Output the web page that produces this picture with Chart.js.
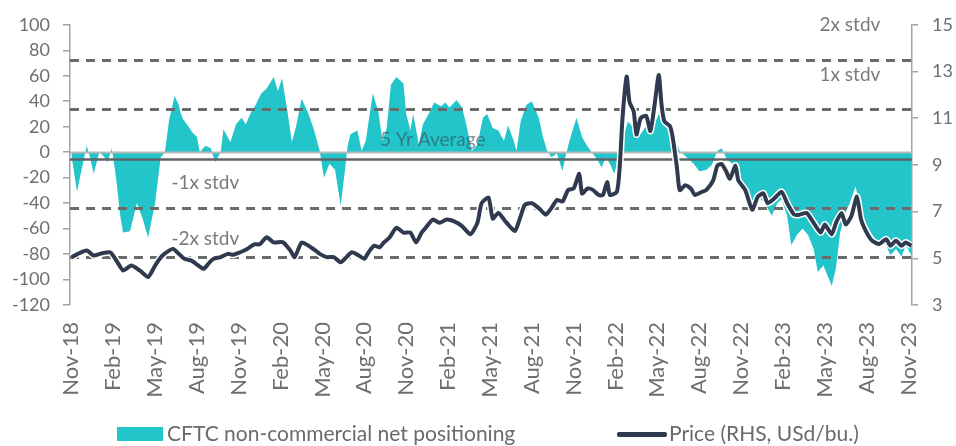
<!DOCTYPE html>
<html>
<head>
<meta charset="utf-8">
<script src="https://cdn.jsdelivr.net/npm/chart.js@4.4.0/dist/chart.umd.min.js"></script>
<style>
  body { margin: 0; background: #fff; font-family: Lato, "Open Sans", sans-serif; }
  #wrap { position: relative; width: 956px; height: 446px; }
  #chart { position: absolute; left: 0; top: 0; }
  .leg { position: absolute; top: 420px; font-size: 21px; line-height: 26px; color: #6a6a6a; white-space: nowrap; }
  .leg i { display: inline-block; vertical-align: middle; margin-right: 4px; }
  #legPos { left: 117px; }
  #legPos i { width: 46px; height: 14px; background: #22c5ca; margin-top: -3px; }
  #legPrice { left: 617px; }
  #legPrice i { width: 50px; height: 5px; background: #2f3a4f; border-radius: 2px; margin-right: 2px; margin-top: -2px; }
</style>
</head>
<body>
<div id="wrap">
  <canvas id="chart" width="956" height="446"></canvas>
  <div class="leg" id="legPos"><i></i>CFTC non-commercial net positioning</div>
  <div class="leg" id="legPrice"><i></i>Price (RHS, USd/bu.)</div>
</div>
<script>
// x tick labels, one every 3 months starting Nov-18
var tickLabels = ['Nov-18', 'Feb-19', 'May-19', 'Aug-19', 'Nov-19', 'Feb-20', 'May-20', 'Aug-20', 'Nov-20',
    'Feb-21', 'May-21', 'Aug-21', 'Nov-21', 'Feb-22', 'May-22', 'Aug-22', 'Nov-22', 'Feb-23', 'May-23', 'Aug-23', 'Nov-23'];

// CFTC net positioning (LHS) - months since Nov-18 / value
var posMonths = [0.0, 0.4, 0.8, 1.1, 1.35, 1.6, 2.0, 2.3, 2.6, 2.9, 3.2, 3.5, 3.7, 4.2, 4.7, 5.1, 5.5, 6.0, 6.4, 6.7,
    7.0, 7.4, 7.7, 7.85, 8.0, 8.4, 8.7, 9.0, 9.2, 9.6, 10.0, 10.3, 10.7, 10.9, 11.2, 11.4, 11.8, 12.2, 12.5, 12.9,
    13.2, 13.6, 14.0, 14.5, 14.8, 15.1, 15.5, 15.8, 16.1, 16.5, 17.0, 17.4, 17.8, 18.1, 18.5, 18.9, 19.3, 19.6, 19.8, 20.0,
    20.5, 20.8, 21.1, 21.6, 22.0, 22.3, 22.6, 22.9, 23.3, 23.8, 24.0, 24.3, 24.5, 24.9, 25.2, 25.6, 26.0, 26.5, 26.8, 27.1,
    27.6, 28.0, 28.3, 28.7, 29.1, 29.5, 29.8, 30.2, 30.6, 31.0, 31.3, 31.7, 31.9, 32.2, 32.6, 33.0, 33.5, 33.8, 34.1, 34.4,
    34.8, 35.2, 35.4, 35.7, 36.2, 36.6, 36.9, 37.3, 37.7, 38.0, 38.3, 38.6, 38.9, 39.2, 39.6, 39.9, 40.3, 40.8, 41.3, 41.7,
    42.1, 42.4, 42.8, 43.2, 43.6, 44.1, 44.6, 45.0, 45.5, 45.9, 46.3, 46.6, 47.0, 47.4, 47.8, 48.3, 48.8, 49.2, 49.7, 50.2,
    50.6, 50.9, 51.3, 51.6, 52.0, 52.4, 52.8, 53.2, 53.5, 53.9, 54.2, 54.5, 54.8, 55.1, 55.5, 55.8, 56.2, 56.5, 56.9, 57.3,
    57.6, 58.0, 58.4, 58.7, 59.1, 59.5, 59.8, 60.2];
var posValues = [-2, -31, -10, 5, -5, -17, 0, -3, -8, 3, -20, -50, -63, -62, -40, -52, -67, -40, -4, 0,
    25, 44, 37, 30, 26, 20, 15, 12, 0, 5, 3, -8, 0, 18, 12, 8, 22, 27, 22, 32,
    37, 46, 50, 59, 48, 58, 31, 8, 20, 42, 30, 17, 1, -20, -9, -14, -42, -15, 5, 14,
    17, 1, 9, 46, 32, 9, 19, 53, 59, 54, 30, 17, 30, 6, 22, 30, 39, 36, 39, 35,
    41, 35, 22, 1, 6, 27, 30, 19, 17, 9, 21, 9, 1, 24, 37, 40, 27, 12, 1, -4,
    -1, -15, -4, 9, 27, 12, 6, 0, -6, -12, -4, -9, -17, -6, 14, 24, 19, 14, 22, 19,
    30, 27, 19, 12, 1, -4, -9, -15, -14, -10, 1, 3, -6, -9, -22, -30, -42, -35, -40, -50,
    -40, -37, -50, -73, -65, -60, -65, -76, -94, -89, -97, -105, -91, -63, -47, -40, -27, -40, -55, -63,
    -68, -71, -73, -81, -76, -82, -73, -81];

// Price (RHS, USd/bu.)
var priceMonths = [0.0, 0.5, 1.1, 1.6, 2.1, 2.8, 3.3, 3.7, 4.3, 4.9, 5.5, 6.0, 6.5, 7.0, 7.3, 7.7, 8.1, 8.6, 9.1, 9.5,
    9.9, 10.2, 10.7, 11.2, 11.6, 12.1, 12.6, 13.1, 13.5, 14.0, 14.5, 15.0, 15.2, 15.7, 16.0, 16.5, 17.0, 17.5, 17.8, 18.3,
    18.8, 19.3, 19.6, 20.1, 20.6, 21.0, 21.3, 21.7, 22.1, 22.4, 22.8, 23.3, 23.8, 24.3, 24.7, 25.1, 25.4, 25.9, 26.4, 26.9,
    27.4, 28.0, 28.6, 29.1, 29.4, 29.9, 30.2, 30.6, 31.1, 31.4, 31.8, 32.2, 32.5, 33.0, 33.5, 34.0, 34.4, 34.8, 35.2, 35.6,
    36.0, 36.4, 36.6, 37.0, 37.4, 37.8, 38.1, 38.4, 38.6, 39.1, 39.3, 39.5, 39.8, 40.0, 40.3, 40.5, 40.8, 41.2, 41.5, 41.8,
    42.1, 42.3, 42.5, 42.9, 43.1, 43.4, 43.6, 44.0, 44.4, 44.7, 45.2, 45.5, 46.0, 46.3, 46.6, 46.9, 47.2, 47.6, 47.8, 48.3,
    48.8, 49.2, 49.6, 49.9, 50.4, 50.9, 51.3, 51.8, 52.2, 52.7, 53.2, 53.7, 54.0, 54.5, 54.8, 55.2, 55.5, 55.9, 56.3, 56.6,
    57.0, 57.4, 57.9, 58.4, 58.7, 59.1, 59.5, 59.8, 60.2];
var priceValues = [5.04, 5.2, 5.33, 5.12, 5.2, 5.25, 4.83, 4.48, 4.69, 4.48, 4.2, 4.69, 5.1, 5.33, 5.4, 5.19, 4.98, 4.9, 4.69, 4.55,
    4.83, 4.98, 5.05, 5.19, 5.15, 5.26, 5.4, 5.6, 5.6, 5.9, 5.68, 5.7, 5.68, 5.33, 5.05, 5.68, 5.54, 5.33, 5.19, 5.05,
    5.05, 4.83, 4.98, 5.26, 5.12, 4.98, 5.26, 5.54, 5.47, 5.68, 5.89, 6.31, 6.1, 6.1, 5.68, 6.1, 6.31, 6.66, 6.52, 6.66,
    6.59, 6.38, 6.03, 6.52, 7.36, 7.6, 6.7, 6.94, 6.59, 6.38, 6.17, 6.8, 7.29, 7.36, 7.15, 6.87, 7.15, 7.5, 7.43, 7.92,
    7.99, 8.62, 7.78, 7.99, 7.92, 7.71, 7.71, 8.27, 7.71, 7.85, 8.9, 11.0, 12.78, 11.7, 11.3, 10.3, 11.0, 11.1, 10.45, 11.57,
    12.85, 11.57, 10.87, 10.66, 10.17, 8.9, 7.92, 8.13, 7.99, 7.71, 7.85, 7.92, 8.34, 8.97, 9.04, 8.76, 8.41, 8.97, 8.34, 7.92,
    7.08, 7.64, 7.78, 7.36, 7.57, 7.85, 7.36, 6.87, 6.87, 6.94, 6.52, 6.1, 6.45, 6.03, 6.52, 6.94, 6.45, 6.8, 7.64, 6.66,
    6.1, 5.75, 5.61, 5.82, 5.54, 5.75, 5.54, 5.68, 5.54];

// 5 yr average and standard deviation of positioning
var avgLevel = -5;
var sdLevel = 38.6;
var sdMultiples = [2, 1, -1, -2];

function toPoints(xs, ys) {
    return xs.map(function (x, i) { return { x: x, y: ys[i] }; });
}

var refLines = {
    id: 'refLines',
    afterDatasetDraw: function (chart, args) {
        if (args.index !== 0) return; // draw right after the area
        var ctx = chart.ctx, a = chart.chartArea, y = chart.scales.y;
        function hline(v, color, width, dash) {
            var py = Math.round(y.getPixelForValue(v)) + 0.5;
            ctx.save();
            ctx.strokeStyle = color;
            ctx.lineWidth = width;
            ctx.setLineDash(dash);
            ctx.beginPath();
            ctx.moveTo(a.left, py);
            ctx.lineTo(a.right, py);
            ctx.stroke();
            ctx.restore();
        }
        hline(0, '#b8b8b8', 2, []);
        hline(avgLevel, '#5e6468', 2.5, []);
        sdMultiples.forEach(function (k) {
            hline(avgLevel + k * sdLevel, '#6b6b6b', 3, [9, 7]);
        });
    },
    afterDatasetsDraw: function (chart) {
        var ctx = chart.ctx, x = chart.scales.x, y = chart.scales.y;
        function label(text, m, v, color) {
            ctx.save();
            ctx.font = '19px Lato';
            ctx.fillStyle = color;
            ctx.textAlign = 'center';
            ctx.textBaseline = 'middle';
            ctx.fillText(text, x.getPixelForValue(m), y.getPixelForValue(v));
            ctx.restore();
        }
        label('2x stdv', 55.8, 100, '#7a7a7a');
        label('1x stdv', 55.8, 61, '#7a7a7a');
        label('5 Yr Average', 25.9, 9.4, 'rgba(60,75,85,0.6)');
        label('-1x stdv', 9.6, -23.8, '#7a7a7a');
        label('-2x stdv', 9.6, -67.8, '#7a7a7a');
    }
};

var ctx = document.getElementById('chart').getContext('2d');
var myChart = new Chart(ctx, {
    type: 'line',
    data: {
        datasets: [{
            label: 'CFTC non-commercial net positioning',
            data: toPoints(posMonths, posValues),
            yAxisID: 'y',
            borderWidth: 0,
            borderColor: 'rgba(0,0,0,0)',
            backgroundColor: '#22c5ca',
            fill: 'origin',
            pointRadius: 0,
            tension: 0,
            order: 3
        }, {
            label: 'halo',
            data: toPoints(priceMonths, priceValues),
            yAxisID: 'y1',
            borderWidth: 7,
            borderColor: '#ffffff',
            fill: false,
            pointRadius: 0,
            tension: 0.2,
            order: 2
        }, {
            label: 'Price (RHS, USd/bu.)',
            data: toPoints(priceMonths, priceValues),
            yAxisID: 'y1',
            borderWidth: 4,
            borderColor: '#2f3a4f',
            borderJoinStyle: 'round',
            fill: false,
            pointRadius: 0,
            tension: 0.2,
            order: 1
        }]
    },
    options: {
        responsive: false,
        animation: false,
        layout: { padding: { top: 21, bottom: 0, left: 0, right: 0 } },
        plugins: {
            legend: { display: false },
            tooltip: { enabled: false }
        },
        scales: {
            x: {
                type: 'linear',
                min: -0.1,
                max: 60.25,
                afterBuildTicks: function (scale) {
                    scale.ticks = tickLabels.map(function (l, i) { return { value: i * 3 }; });
                },
                afterFit: function (scale) { scale.height = 141; },
                ticks: {
                    autoSkip: false,
                    minRotation: 90,
                    maxRotation: 90,
                    padding: 17,
                    color: '#6f6f6f',
                    font: { family: 'Lato', size: 22 },
                    callback: function (value) { return tickLabels[Math.round(value / 3)]; }
                },
                grid: { display: false, drawTicks: false },
                border: { display: false }
            },
            y: {
                position: 'left',
                min: -120,
                max: 100,
                afterFit: function (scale) { scale.width = 70; },
                ticks: {
                    stepSize: 20,
                    padding: 13,
                    color: '#6f6f6f',
                    font: { family: 'Lato', size: 18 }
                },
                grid: { drawOnChartArea: false, tickLength: 7, color: '#a3a3a3', lineWidth: 1.5 },
                border: { color: '#a3a3a3', width: 1.5 }
            },
            y1: {
                position: 'right',
                min: 3,
                max: 15,
                afterFit: function (scale) { scale.width = 44; },
                ticks: {
                    stepSize: 2,
                    padding: 14,
                    color: '#6f6f6f',
                    font: { family: 'Lato', size: 18 }
                },
                grid: { drawOnChartArea: false, tickLength: 6, color: '#a3a3a3', lineWidth: 1.5 },
                border: { color: '#a3a3a3', width: 1.5 }
            }
        }
    },
    plugins: [refLines]
});
</script>
</body>
</html>
